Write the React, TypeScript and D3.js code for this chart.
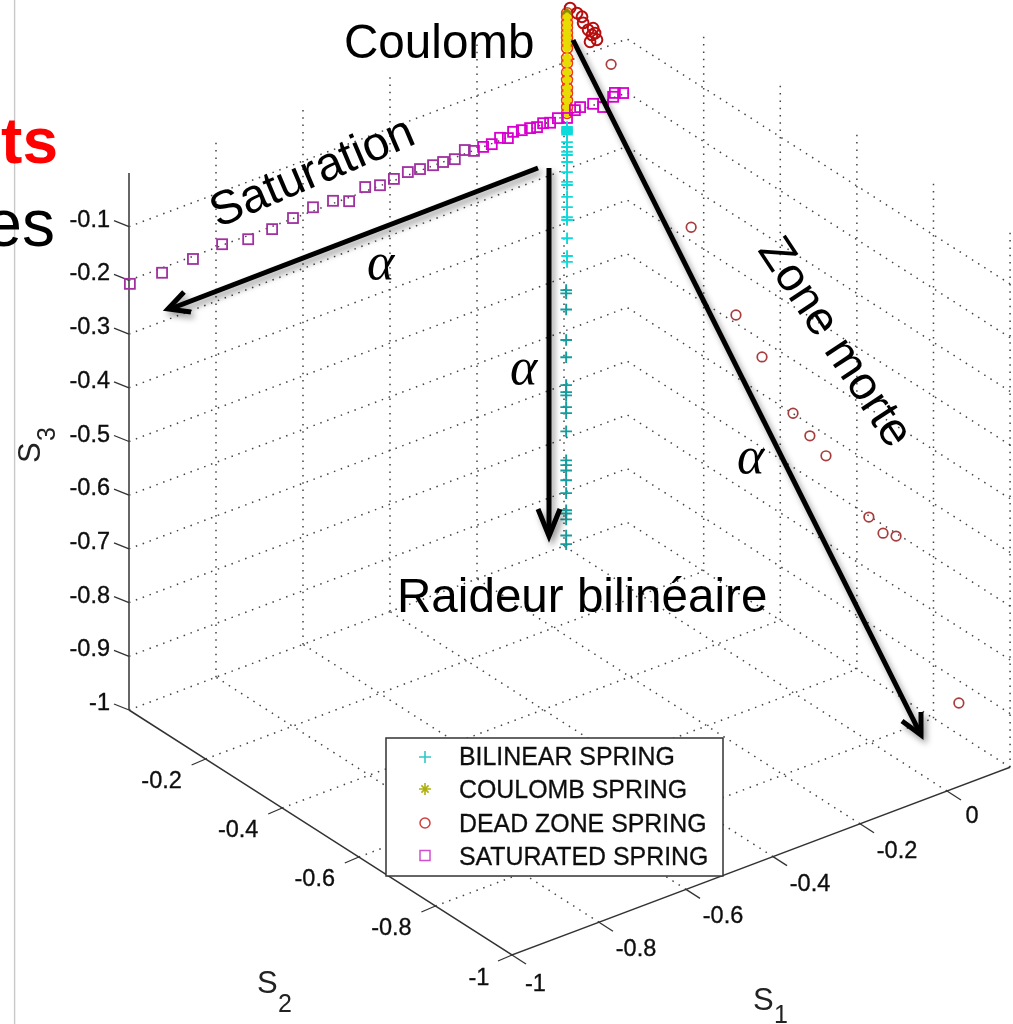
import React from "react";
import * as d3 from "d3";

const S1_TICKS = [-1, -0.8, -0.6, -0.4, -0.2, 0];
const S2_TICKS = [-1, -0.8, -0.6, -0.4, -0.2];
const S3_TICKS = [-0.1, -0.2, -0.3, -0.4, -0.5, -0.6, -0.7, -0.8, -0.9, -1];
const S1_MAX = 0.145;

// Bilinear spring: s1 ~ 0, s2 = 0
const bilinearUpperS3 = [-0.222, -0.225, -0.227, -0.229, -0.231, -0.233, -0.236, -0.25, -0.259, -0.268, -0.274, -0.287, -0.306, -0.324, -0.33, -0.352, -0.371, -0.39, -0.395, -0.429, -0.462, -0.473];
const bilinearLowerS3 = [-0.525, -0.531, -0.561, -0.618, -0.65, -0.702, -0.715, -0.721, -0.743, -0.754, -0.788, -0.842, -0.851, -0.861, -0.879, -0.903, -0.935, -0.941, -0.952, -0.982, -0.998];
// Coulomb spring: s1 ~ 0, s2 = 0
const coulombS3 = [-0.01, -0.017, -0.028, -0.037, -0.047, -0.056, -0.065, -0.075, -0.093, -0.103, -0.12, -0.134, -0.149, -0.159, -0.172, -0.185, -0.196];
// Dead zone spring: s1 = 0
const deadZoneS2 = [-0.016, -0.034, -0.047, -0.05, -0.063, -0.076, -0.081, -0.073, -0.068, -0.086, -0.123, -0.332, -0.449, -0.517, -0.598, -0.642, -0.684, -0.796, -0.833, -0.867, -1.031];
const deadZoneS3 = [0.009, 0.008, 0.007, -0.003, -0.01, -0.001, -0.008, -0.015, -0.03, -0.018, -0.047, -0.255, -0.365, -0.412, -0.48, -0.502, -0.52, -0.583, -0.596, -0.586, -0.822];
// Saturated spring: s2 = 0
const saturatedS1 = [-0.998, -0.924, -0.853, -0.786, -0.726, -0.671, -0.623, -0.577, -0.531, -0.494, -0.457, -0.423, -0.391, -0.359, -0.331, -0.301, -0.278, -0.251, -0.228, -0.207, -0.186, -0.166, -0.147, -0.129, -0.117, -0.097, -0.078, -0.062, -0.048, -0.032, -0.014, 0.007, 0.025, 0.037, 0.067, 0.09, 0.113, 0.117, 0.136];
const saturatedS3 = [-0.207, -0.209, -0.205, -0.198, -0.207, -0.205, -0.199, -0.193, -0.195, -0.207, -0.192, -0.199, -0.197, -0.194, -0.197, -0.199, -0.2, -0.203, -0.193, -0.201, -0.2, -0.201, -0.195, -0.201, -0.193, -0.196, -0.198, -0.201, -0.198, -0.202, -0.199, -0.205, -0.196, -0.194, -0.197, -0.21, -0.198, -0.192, -0.198];

const legendLabels = ["BILINEAR SPRING", "COULOMB SPRING", "DEAD ZONE SPRING", "SATURATED SPRING"];

const x1 = d3.scaleLinear().domain([-1, 0]).range([512, 947]);
const y1 = d3.scaleLinear().domain([-1, 0]).range([955, 791]);
const x2 = d3.scaleLinear().domain([-1, 0]).range([0, -383]);
const y2 = d3.scaleLinear().domain([-1, 0]).range([0, -245]);
const y3 = d3.scaleLinear().domain([-1, 0]).range([0, -537]);
const P = (a: number, b: number, c: number): [number, number] => [x1(a) + x2(b), y1(a) + y2(b) + y3(c)];
const seg = d3.line();

const GRID = { fill: "none", stroke: "#444", strokeWidth: 1.5, strokeDasharray: "1.5 5.8" };
const SANS = "'Liberation Sans', Arial, sans-serif";
const TICK_TEXT = { fontFamily: SANS, fontSize: 23.5, fill: "#111", stroke: "#111", strokeWidth: 0.35 };

function Arrow({ pts, head }: { pts: [number, number][]; head: [number, number][] }) {
  return (
    <g fill="none" stroke="#000" strokeWidth={5}>
      <path d={seg(pts) || ""} />
      <path d={seg(head) || ""} />
    </g>
  );
}

function Plus({ x, y, r, c, w = 1.9 }: any) {
  return <path d={`M${x - r},${y}H${x + r}M${x},${y - r}V${y + r}`} stroke={c} strokeWidth={w} fill="none" />;
}
function Star({ x, y, r, c, w = 2 }: any) {
  const k = r * 0.6;
  return <path d={`M${x - r},${y}H${x + r}M${x},${y - r}V${y + r}M${x - k},${y - k}L${x + k},${y + k}M${x - k},${y + k}L${x + k},${y - k}`} stroke={c} strokeWidth={w} fill="none" />;
}

export default function App() {
  const zLines = S3_TICKS.map((z) => ({ z, a: P(-1, 0, z), b: P(S1_MAX, 0, z), c: P(S1_MAX, -1, z) }));
  const s1Vert = S1_TICKS.slice(1).map((s) => [P(s, 0, -1), P(s, 0, 0)] as [number, number][]);
  const s2Vert = [-1, -0.8, -0.6, -0.4, -0.2].map((s) => [P(S1_MAX, s, -1), P(S1_MAX, s, 0)] as [number, number][]);
  const s1Floor = S1_TICKS.slice(1).map((s) => [P(s, -1, -1), P(s, 0, -1)] as [number, number][]);
  const s2Floor = S2_TICKS.slice(1).map((s) => [P(-1, s, -1), P(S1_MAX, s, -1)] as [number, number][]);

  const s1Offset = (s: number) => (s === -1 ? [23.5, 36] : s === 0 ? [25, 32] : [37, 34]);
  const s2Offset = (s: number) => (s === -1 ? [-33, 30] : [-44, 29]);

  return (
    <svg width={1013} height={1024} style={{ position: "absolute", left: 0, top: 0, display: "block", background: "#fff" }}>
      <defs>
        <filter id="soft" filterUnits="userSpaceOnUse" x="0" y="0" width="1013" height="1024">
          <feGaussianBlur stdDeviation="0.6" />
        </filter>
        <filter id="shadow" filterUnits="userSpaceOnUse" x="0" y="0" width="1013" height="1024">
          <feDropShadow dx="3" dy="4" stdDeviation="3" floodColor="#000" floodOpacity="0.4" />
        </filter>
      </defs>

      <line x1={14.6} x2={14.6} y1={0} y2={1024} stroke="#c8c8c8" strokeWidth={1.4} />
      <text x={58} y={163} textAnchor="end" fontFamily={SANS} fontWeight="bold" fontSize={64} fill="#ff0000">ts</text>
      <text x={55} y={246} textAnchor="end" fontFamily={SANS} fontSize={66} fill="#000">es</text>

      <g filter="url(#soft)">
        {zLines.map((l) => (
          <path key={l.z} d={seg([l.a, l.b, l.c]) || ""} {...GRID} />
        ))}
        {[...s1Vert, ...s2Vert, ...s1Floor, ...s2Floor].map((p, i) => (
          <path key={i} d={seg(p) || ""} {...GRID} />
        ))}

        <path d={seg([P(-1, 0, -1), P(-1, 0, 0)]) || ""} stroke="#555" strokeWidth={1.8} fill="none" />
        <path d={seg([P(-1, 0, -1), P(-1, -1, -1), P(S1_MAX, -1, -1)]) || ""} stroke="#333" strokeWidth={1.5} fill="none" />

        {S3_TICKS.map((z) => {
          const [x, y] = P(-1, 0, z);
          return (
            <g key={z}>
              <path d={`M${x},${y}l-15,-6`} stroke="#333" strokeWidth={1.3} />
              <text x={110} y={y} textAnchor="end" {...TICK_TEXT}>{z}</text>
            </g>
          );
        })}
        {S1_TICKS.map((s) => {
          const [x, y] = P(s, -1, -1);
          const [dx, dy] = s1Offset(s);
          return (
            <g key={s}>
              <path d={`M${x},${y}l14,9`} stroke="#333" strokeWidth={1.3} />
              <text x={x + dx} y={y + dy} textAnchor="middle" {...TICK_TEXT}>{s}</text>
            </g>
          );
        })}
        {S2_TICKS.map((s) => {
          const [x, y] = P(-1, s, -1);
          const [dx, dy] = s2Offset(s);
          return (
            <g key={s}>
              <path d={`M${x},${y}l-14,6`} stroke="#333" strokeWidth={1.3} />
              <text x={x + dx} y={y + dy} textAnchor="middle" {...TICK_TEXT}>{s}</text>
            </g>
          );
        })}

        <g fontFamily={SANS} fill="#222">
          <text x={257} y={993} fontSize={31}>S</text>
          <text x={278} y={1012} fontSize={25}>2</text>
          <text x={753} y={1010} fontSize={31}>S</text>
          <text x={774} y={1023} fontSize={25}>1</text>
          <text transform="translate(40,463) rotate(-90)" fontSize={31}>S</text>
          <text transform="translate(55,441) rotate(-90)" fontSize={25}>3</text>
        </g>

        {coulombS3.map((z, i) => {
          const [x, y] = P(0.007, 0, z);
          return <circle key={i} cx={x} cy={y} r={5.4} fill="none" stroke="#f03a10" strokeWidth={1.6} />;
        })}
        {deadZoneS2.map((b, i) => {
          const [x, y] = P(0, b, deadZoneS3[i]);
          return <circle key={i} cx={x} cy={y} r={i < 10 ? 5.4 : 4.8} fill="none" stroke={i < 10 ? "#b81010" : "#a83c3c"} strokeWidth={i < 10 ? 2 : 1.7} />;
        })}
        {coulombS3.map((z, i) => {
          const [x, y] = P(0.007, 0, z);
          return <Star key={i} x={x} y={y} r={4.6} c={i < 1 ? "#8a8a00" : "#e6dc00"} w={3} />;
        })}
        {saturatedS1.map((a, i) => {
          const [x, y] = P(a, 0, saturatedS3[i]);
          return <rect key={i} x={x - 5} y={y - 5} width={10} height={10} fill="none" stroke={a > -0.2 ? "#d800d0" : "#a030a0"} strokeWidth={1.8} />;
        })}
        {bilinearUpperS3.map((z, i) => {
          const [x, y] = P(0.007, 0, z);
          return <Plus key={i} x={x} y={y} r={5.8} c="#10dada" />;
        })}
        {bilinearLowerS3.map((z, i) => {
          const [x, y] = P(0.005, 0, z);
          return <Plus key={i} x={x} y={y} r={5.8} c="#149c9c" />;
        })}

        <rect x={386} y={738} width={337} height={138} fill="#fff" stroke="#333" strokeWidth={1.5} />
        <Plus x={425} y={757} r={6} c="#30c8c8" w={1.6} />
        <Star x={425} y={789} r={6} c="#b0b010" w={1.6} />
        <circle cx={425} cy={823} r={5} fill="none" stroke="#d04040" strokeWidth={1.5} />
        <rect x={420} y={850.5} width={10} height={10} fill="none" stroke="#d050d0" strokeWidth={1.5} />
        {legendLabels.map((t, i) => (
          <text key={t} x={459} y={[765, 798, 832, 865][i]} fontFamily={SANS} fontSize={24.9} fill="#111" stroke="#111" strokeWidth={0.3}>{t}</text>
        ))}
      </g>

      <g filter="url(#shadow)">
        <Arrow pts={[[538, 168], [170, 309]]} head={[[184, 292], [168, 309], [191, 312]]} />
        <Arrow pts={[[549, 168], [549, 535]]} head={[[538, 509], [549, 536], [560, 509]]} />
        <Arrow pts={[[573, 40], [920, 733]]} head={[[902, 721], [921, 735], [921, 712]]} />
      </g>

      <g fontFamily={SANS} fill="#000">
        <text x={344} y={58} fontSize={47.6}>Coulomb</text>
        <text x={397} y={612} fontSize={47.6}>Raideur bilinéaire</text>
        <text transform="translate(218,228) rotate(-23)" fontSize={47.6}>Saturation</text>
        <text transform="translate(757,250) rotate(56.5)" fontSize={47}>Zone morte</text>
      </g>
      <g fontFamily="'Liberation Serif', serif" fontStyle="italic" fontSize={52} fill="#000">
        <text x={367} y={279}>α</text>
        <text x={510} y={384}>α</text>
        <text x={737} y={473}>α</text>
      </g>
    </svg>
  );
}
